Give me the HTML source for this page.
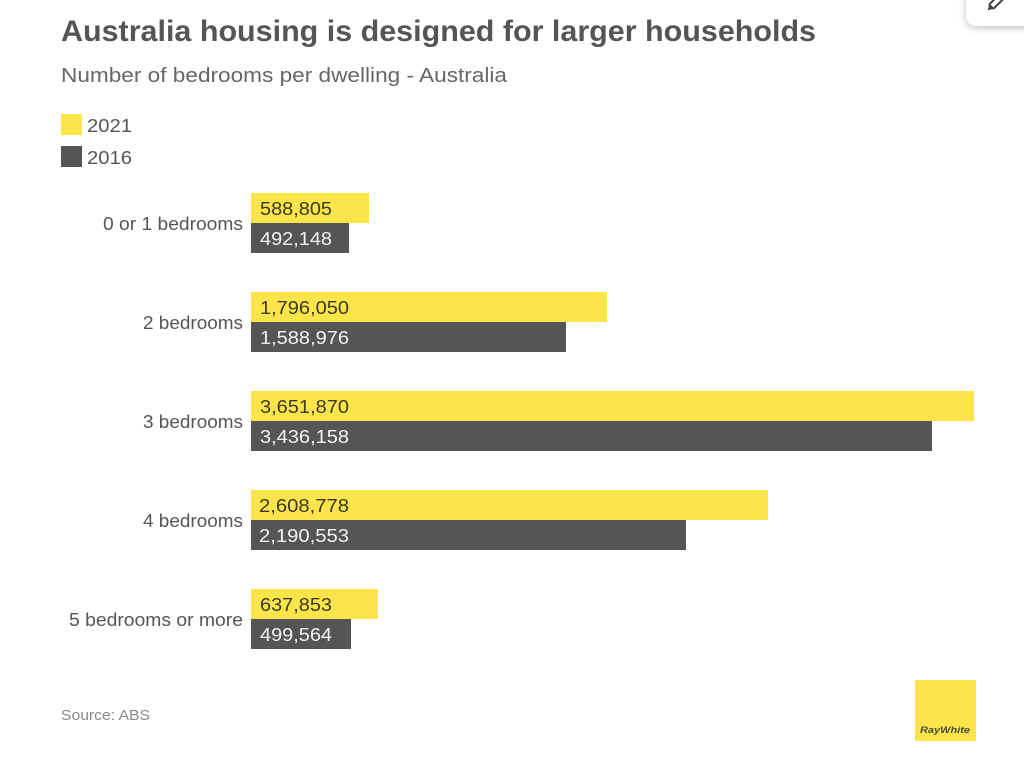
<!DOCTYPE html>
<html>
<head>
<meta charset="utf-8">
<style>
  html, body { margin: 0; padding: 0; background: #ffffff; }
  body { width: 1024px; height: 766px; overflow: hidden; }
  svg { display: block; }
  text { font-family: "Liberation Sans", "DejaVu Sans", sans-serif; }
</style>
</head>
<body>
<svg width="1024" height="766" viewBox="0 0 1024 766" xmlns="http://www.w3.org/2000/svg">
  <defs>
    <filter id="sh" x="-50%" y="-50%" width="200%" height="200%">
      <feGaussianBlur in="SourceAlpha" stdDeviation="4"/>
      <feOffset dx="0" dy="2" result="b"/>
      <feComponentTransfer><feFuncA type="linear" slope="0.25"/></feComponentTransfer>
      <feMerge><feMergeNode/><feMergeNode in="SourceGraphic"/></feMerge>
    </filter>
  </defs>
  <rect x="0" y="0" width="1024" height="766" fill="#ffffff"/>

  <!-- Title -->
  <text x="61" y="41" font-size="30" font-weight="bold" fill="#555555" textLength="755" lengthAdjust="spacingAndGlyphs">Australia housing is designed for larger households</text>
  <!-- Subtitle -->
  <text x="61" y="82" font-size="20" fill="#666666" textLength="446" lengthAdjust="spacingAndGlyphs">Number of bedrooms per dwelling - Australia</text>

  <!-- Legend -->
  <rect x="61" y="114" width="21" height="21" fill="#fbe54b"/>
  <text x="87" y="132" font-size="18" fill="#555555" textLength="45" lengthAdjust="spacingAndGlyphs">2021</text>
  <rect x="61" y="146" width="21" height="21" fill="#555555"/>
  <text x="87" y="164" font-size="18" fill="#555555" textLength="45" lengthAdjust="spacingAndGlyphs">2016</text>

  <!-- Category labels -->
  <g font-size="18" fill="#555555" text-anchor="end">
    <text x="243" y="230" textLength="140" lengthAdjust="spacingAndGlyphs">0 or 1 bedrooms</text>
    <text x="243" y="329" textLength="100" lengthAdjust="spacingAndGlyphs">2 bedrooms</text>
    <text x="243" y="428" textLength="100" lengthAdjust="spacingAndGlyphs">3 bedrooms</text>
    <text x="243" y="527" textLength="100" lengthAdjust="spacingAndGlyphs">4 bedrooms</text>
    <text x="243" y="626" textLength="174" lengthAdjust="spacingAndGlyphs">5 bedrooms or more</text>
  </g>

  <!-- Bars -->
  <g>
    <rect x="251" y="193" width="118" height="30" fill="#fbe54b"/>
    <rect x="251" y="223" width="98" height="30" fill="#555555"/>

    <rect x="251" y="292" width="356" height="30" fill="#fbe54b"/>
    <rect x="251" y="322" width="315" height="30" fill="#555555"/>

    <rect x="251" y="391" width="723" height="30" fill="#fbe54b"/>
    <rect x="251" y="421" width="681" height="30" fill="#555555"/>

    <rect x="251" y="490" width="517" height="30" fill="#fbe54b"/>
    <rect x="251" y="520" width="435" height="30" fill="#555555"/>

    <rect x="251" y="589" width="127" height="30" fill="#fbe54b"/>
    <rect x="251" y="619" width="100" height="30" fill="#555555"/>
  </g>

  <!-- Value labels -->
  <g font-size="18">
    <text x="260" y="215" fill="#3d3a24" textLength="72" lengthAdjust="spacingAndGlyphs">588,805</text>
    <text x="260" y="245" fill="#f2f2f2" textLength="72" lengthAdjust="spacingAndGlyphs">492,148</text>

    <text x="260" y="314" fill="#3d3a24" textLength="89" lengthAdjust="spacingAndGlyphs">1,796,050</text>
    <text x="260" y="344" fill="#f2f2f2" textLength="89" lengthAdjust="spacingAndGlyphs">1,588,976</text>

    <text x="260" y="413" fill="#3d3a24" textLength="89" lengthAdjust="spacingAndGlyphs">3,651,870</text>
    <text x="260" y="443" fill="#f2f2f2" textLength="89" lengthAdjust="spacingAndGlyphs">3,436,158</text>

    <text x="259" y="512" fill="#3d3a24" textLength="90" lengthAdjust="spacingAndGlyphs">2,608,778</text>
    <text x="259" y="542" fill="#f2f2f2" textLength="90" lengthAdjust="spacingAndGlyphs">2,190,553</text>

    <text x="260" y="611" fill="#3d3a24" textLength="72" lengthAdjust="spacingAndGlyphs">637,853</text>
    <text x="260" y="641" fill="#f2f2f2" textLength="72" lengthAdjust="spacingAndGlyphs">499,564</text>
  </g>

  <!-- Source -->
  <text x="61" y="720" font-size="15" fill="#8a8a8a" textLength="89" lengthAdjust="spacingAndGlyphs">Source: ABS</text>

  <!-- Ray White logo -->
  <rect x="915" y="680" width="61" height="61" fill="#fbe54b"/>
  <text x="920" y="733" font-size="9" font-weight="bold" font-style="italic" fill="#4a4a3a" textLength="50" lengthAdjust="spacingAndGlyphs">RayWhite</text>

  <!-- Top-right edit button -->
  <rect x="966" y="-20" width="72" height="46" rx="10" ry="10" fill="#ffffff" filter="url(#sh)"/>
  <g transform="translate(992,6) rotate(-45)">
    <rect x="-1" y="-3" width="14" height="6" rx="1" fill="none" stroke="#444" stroke-width="2"/>
    <path d="M-1,-3 L-6,0 L-1,3 Z" fill="#444"/>
  </g>
</svg>
</body>
</html>
